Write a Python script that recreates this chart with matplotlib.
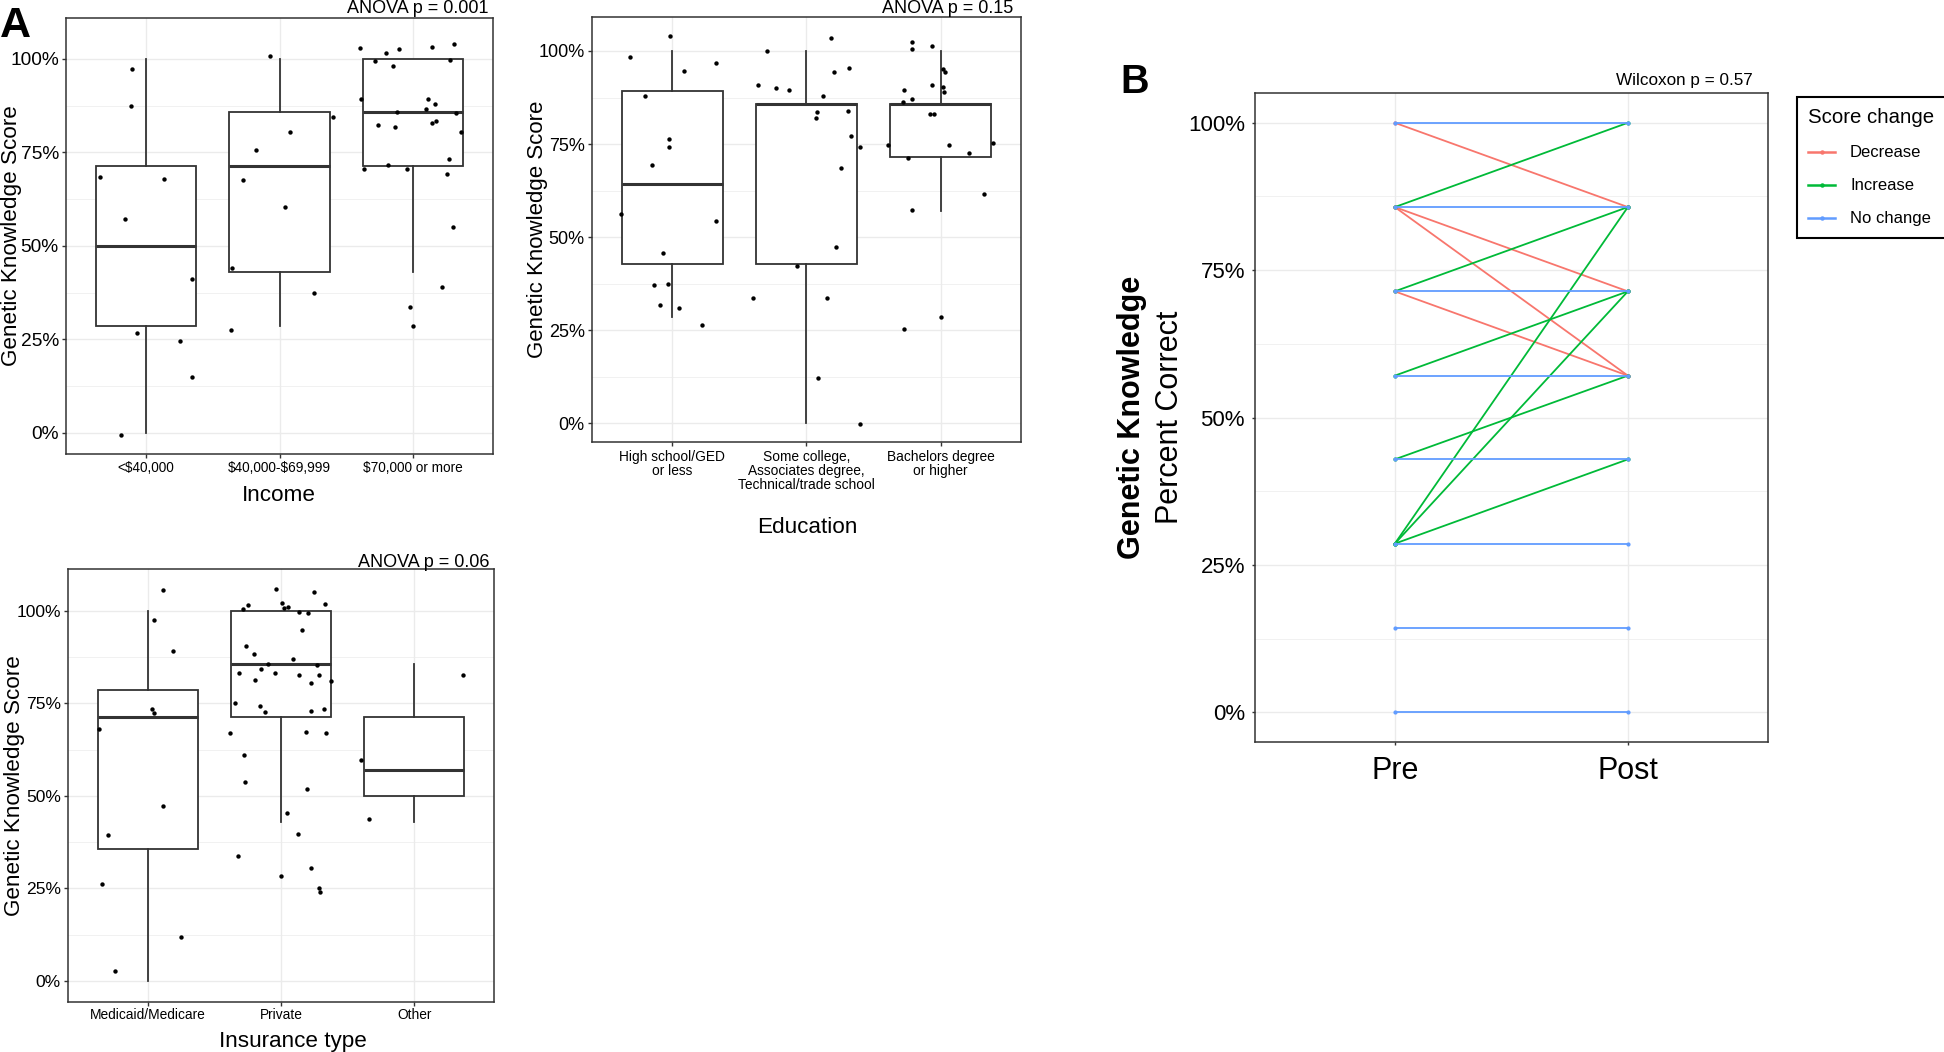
import matplotlib
matplotlib.use("Agg")
import matplotlib.pyplot as plt
from matplotlib.lines import Line2D
from matplotlib.ticker import PercentFormatter

plt.rcParams['font.family'] = ['Liberation Sans', 'DejaVu Sans']

W, H = 1944, 1052

# ---- Panel A: income ----
income_labels = ['<\\$40,000', '\\$40,000-\\$69,999', '\\$70,000 or more']
income_q1 = [0.286, 0.429, 0.714]
income_med = [0.500, 0.714, 0.857]
income_q3 = [0.714, 0.857, 1.000]
income_lo = [0.000, 0.286, 0.429]
income_hi = [1.000, 1.000, 1.000]
income_jx = [
    [-0.104, -0.112, -0.341, 0.139, -0.159, 0.346, -0.067, 0.254, 0.348, -0.187],
    [-0.072, 0.398, 0.077, -0.177, -0.276, 0.042, -0.356, 0.256, -0.361],
    [-0.396, -0.204, -0.109, 0.142, 0.306, -0.286, -0.149, 0.274, -0.391, 0.114,
     0.164, 0.095, -0.124, 0.318, -0.266, -0.139, 0.142, 0.174, 0.361, -0.189,
     -0.371, -0.047, 0.269, 0.256, 0.296, 0.216, -0.022, -0.002],
]
income_jy = [
    [0.974, 0.873, 0.685, 0.679, 0.571, 0.412, 0.268, 0.245, 0.149, -0.006],
    [1.008, 0.845, 0.804, 0.757, 0.677, 0.604, 0.441, 0.373, 0.274],
    [1.028, 1.016, 1.027, 1.032, 1.039, 0.994, 0.981, 0.996, 0.894, 0.892,
     0.878, 0.865, 0.859, 0.856, 0.824, 0.818, 0.828, 0.833, 0.804, 0.717,
     0.706, 0.706, 0.733, 0.693, 0.551, 0.390, 0.338, 0.287],
]

# ---- Panel A: education ----
edu_labels = ['High school/GED\nor less',
              'Some college,\nAssociates degree,\nTechnical/trade school',
              'Bachelors degree\nor higher']
edu_q1 = [0.429, 0.429, 0.714]
edu_med = [0.643, 0.857, 0.857]
edu_q3 = [0.893, 0.857, 0.857]
edu_lo = [0.286, 0.000, 0.571]
edu_hi = [1.000, 1.000, 1.000]
edu_jx = [
    [-0.020, -0.311, 0.326, 0.090, -0.206, -0.022, -0.027, -0.149, -0.383, 0.323,
     -0.067, -0.139, -0.030, -0.090, 0.052, 0.221],
    [0.187, -0.294, 0.316, 0.209, -0.358, -0.226, -0.127, 0.122, 0.077, 0.308,
     0.075, 0.333, 0.398, 0.256, 0.221, -0.070, -0.396, 0.157, 0.087, 0.398],
    [-0.216, -0.216, -0.060, 0.015, 0.030, -0.060, 0.020, 0.025, -0.273, -0.281,
     -0.209, -0.075, -0.052, -0.388, 0.060, 0.393, 0.209, -0.241, 0.323, -0.209,
     0.000, -0.269],
]
edu_jy = [
    [1.039, 0.984, 0.967, 0.945, 0.879, 0.763, 0.741, 0.695, 0.563, 0.544,
     0.458, 0.372, 0.373, 0.317, 0.310, 0.265],
    [1.036, 1.001, 0.955, 0.943, 0.908, 0.901, 0.896, 0.879, 0.837, 0.838,
     0.819, 0.771, 0.743, 0.686, 0.474, 0.423, 0.337, 0.337, 0.122, -0.001],
    [1.023, 1.006, 1.013, 0.952, 0.944, 0.908, 0.902, 0.889, 0.895, 0.863,
     0.871, 0.831, 0.832, 0.747, 0.747, 0.753, 0.726, 0.712, 0.617, 0.573,
     0.285, 0.254],
]

# ---- Panel A: insurance ----
ins_labels = ['Medicaid/Medicare', 'Private', 'Other']
ins_q1 = [0.357, 0.714, 0.500]
ins_med = [0.714, 0.857, 0.571]
ins_q3 = [0.786, 1.000, 0.714]
ins_lo = [0.000, 0.429, 0.429]
ins_hi = [1.000, 1.000, 0.857]
ins_jx = [
    [0.116, 0.047, 0.193, 0.030, 0.050, -0.364, 0.112, -0.297, -0.339, 0.253, -0.245],
    [-0.035, 0.250, 0.010, 0.332, -0.248, 0.057, 0.025, -0.287, 0.134, 0.201,
     0.161, -0.265, -0.203, 0.089, -0.094, 0.270, -0.151, -0.315, -0.045, 0.134,
     0.290, -0.193, 0.374, 0.226, -0.344, -0.154, 0.327, -0.119, 0.230, -0.379,
     0.188, 0.342, -0.275, -0.268, 0.198, 0.047, 0.131, -0.325, 0.230, -0.002,
     0.287, 0.295],
    [0.364, -0.397, -0.335],
]
ins_jy = [
    [1.057, 0.975, 0.892, 0.734, 0.723, 0.682, 0.472, 0.395, 0.263, 0.119, 0.028],
    [1.059, 1.050, 1.022, 1.019, 1.016, 1.011, 1.007, 1.006, 0.998, 0.994,
     0.948, 0.906, 0.883, 0.871, 0.857, 0.853, 0.842, 0.832, 0.831, 0.827,
     0.827, 0.814, 0.810, 0.805, 0.750, 0.742, 0.734, 0.727, 0.729, 0.670,
     0.672, 0.670, 0.612, 0.538, 0.520, 0.454, 0.397, 0.337, 0.304, 0.284,
     0.250, 0.240],
    [0.827, 0.598, 0.437],
]

# ---- Panel B: pre/post ----
pre_post_labels = ['Pre', 'Post']
pre_scores = [1.0, 0.857, 0.714, 0.571, 0.429, 0.286, 0.143, 0.0,
              1.0, 0.857, 0.857, 0.714,
              0.857, 0.714, 0.571, 0.429, 0.286, 0.286, 0.286]
post_scores = [1.0, 0.857, 0.714, 0.571, 0.429, 0.286, 0.143, 0.0,
               0.857, 0.714, 0.571, 0.571,
               1.0, 0.857, 0.714, 0.571, 0.857, 0.714, 0.429]
score_change = ['No change'] * 8 + ['Decrease'] * 4 + ['Increase'] * 7
change_levels = ['Decrease', 'Increase', 'No change']
change_colors = {'Decrease': '#F8766D', 'Increase': '#00BA38', 'No change': '#619CFF'}

GRID = '#EBEBEB'
DARK = '#333333'


def px_axes(left, top, right, bottom):
    return fig.add_axes([left / W, 1 - bottom / H, (right - left) / W, (bottom - top) / H])


def fx(x):
    return x / W


def fy(y):
    return 1 - y / H


def style_axes(ax, n, ylim, ysize, xsize, tick_len=3, ypad=2, xpad=1.5):
    ax.set_xlim(0.4, n + 0.6)
    ax.set_ylim(*ylim)
    ax.set_yticks([0, 0.25, 0.5, 0.75, 1.0])
    ax.set_yticks([0.125, 0.375, 0.625, 0.875], minor=True)
    ax.yaxis.set_major_formatter(PercentFormatter(1.0, decimals=0))
    ax.grid(which='major', color=GRID, linewidth=1.0)
    ax.grid(which='minor', axis='y', color=GRID, linewidth=0.5)
    ax.set_axisbelow(True)
    ax.tick_params(which='minor', length=0)
    ax.tick_params(axis='y', which='major', labelsize=ysize, length=tick_len,
                   width=1.0, color=DARK, pad=ypad)
    ax.tick_params(axis='x', which='major', labelsize=xsize, length=tick_len,
                   width=1.0, color=DARK, pad=xpad)
    for s in ax.spines.values():
        s.set_color(DARK)
        s.set_linewidth(1.1)


def box_panel(ax, labels, q1, med, q3, lo, hi, jx, jy):
    stats = []
    for i in range(len(labels)):
        stats.append(dict(med=med[i], q1=q1[i], q3=q3[i],
                          whislo=lo[i], whishi=hi[i], fliers=[]))
    ax.bxp(stats, positions=range(1, len(labels) + 1), widths=0.75,
           patch_artist=True, showfliers=False, showcaps=False,
           boxprops=dict(facecolor='white', edgecolor=DARK, linewidth=1.3),
           medianprops=dict(color=DARK, linewidth=2.2, solid_capstyle='butt'),
           whiskerprops=dict(color=DARK, linewidth=1.3), zorder=2)
    for i in range(len(labels)):
        xs = [i + 1 + d for d in jx[i]]
        ax.scatter(xs, jy[i], s=10, color='black', linewidths=0, zorder=3)
    ax.set_xticks(range(1, len(labels) + 1))
    ax.set_xticklabels(labels)


fig = plt.figure(figsize=(W / 100, H / 100), dpi=100)

# A1 income
ax1 = px_axes(65.7, 17.7, 493.3, 454.3)
box_panel(ax1, income_labels, income_q1, income_med, income_q3, income_lo,
          income_hi, income_jx, income_jy)
style_axes(ax1, 3, (-0.057, 1.11), 13.8, 9.8)
fig.text(fx(11.5), fy(236), 'Genetic Knowledge Score', rotation=90,
         ha='center', va='center', fontsize=16.2)
fig.text(fx(279), fy(501), 'Income', ha='center', va='baseline', fontsize=16.2)
fig.text(fx(488), fy(13.3), 'ANOVA p = 0.001', ha='right', va='baseline', fontsize=13)

# A2 education
ax2 = px_axes(591.7, 16.7, 1021, 442.3)
box_panel(ax2, edu_labels, edu_q1, edu_med, edu_q3, edu_lo, edu_hi, edu_jx, edu_jy)
style_axes(ax2, 3, (-0.051, 1.092), 13, 9.9, xpad=2.6)
for lab in ax2.get_xticklabels():
    lab.set_linespacing(1.0)
fig.text(fx(537), fy(229.5), 'Genetic Knowledge Score', rotation=90,
         ha='center', va='center', fontsize=16)
fig.text(fx(807), fy(532.7), 'Education', ha='center', va='baseline', fontsize=16.2)
fig.text(fx(1013), fy(13.2), 'ANOVA p = 0.15', ha='right', va='baseline', fontsize=13)

# A3 insurance
ax3 = px_axes(67.7, 569.3, 494, 1001.7)
box_panel(ax3, ins_labels, ins_q1, ins_med, ins_q3, ins_lo, ins_hi, ins_jx, ins_jy)
style_axes(ax3, 3, (-0.056, 1.1126), 12.6, 9.9)
fig.text(fx(15), fy(785.5), 'Genetic Knowledge Score', rotation=90,
         ha='center', va='center', fontsize=16.2)
fig.text(fx(293), fy(1047), 'Insurance type', ha='center', va='baseline', fontsize=16.2)
fig.text(fx(489), fy(566.7), 'ANOVA p = 0.06', ha='right', va='baseline', fontsize=13)

fig.text(fx(0), fy(36.7), 'A', ha='left', va='baseline', fontsize=31, fontweight='bold')

# B pre/post
axb = px_axes(1255, 93.3, 1767.7, 741.7)
for level in change_levels:
    for p0, p1, c in zip(pre_scores, post_scores, score_change):
        if c == level:
            axb.plot([1, 2], [p0, p1], color=change_colors[level], linewidth=1.3,
                     marker='o', markersize=2.0, zorder=3)
axb.set_xticks([1, 2])
axb.set_xticklabels(pre_post_labels)
style_axes(axb, 2, (-0.05, 1.05), 16, 22, tick_len=2.4, ypad=4.8, xpad=7.8)
fig.text(fx(1132), fy(417.5), 'Genetic Knowledge', rotation=90, ha='center',
         va='center', fontsize=22, fontweight='bold')
fig.text(fx(1170), fy(417.5), 'Percent Correct', rotation=90, ha='center',
         va='center', fontsize=22)
fig.text(fx(1752.7), fy(85), 'Wilcoxon p = 0.57', ha='right', va='baseline', fontsize=12.3)
fig.text(fx(1120), fy(93.3), 'B', ha='left', va='baseline', fontsize=28.5, fontweight='bold')

handles = [Line2D([0], [0], color=change_colors[k], linewidth=1.8, marker='o',
                  markersize=2.2) for k in change_levels]
leg = axb.legend(handles, change_levels, loc='upper left',
                 bbox_to_anchor=(fx(1796.7), fy(96.7)), bbox_transform=fig.transFigure,
                 borderaxespad=0, frameon=True, fancybox=False, edgecolor='black',
                 framealpha=1, title='Score change', title_fontsize=14.7, fontsize=12,
                 handlelength=1.6, handletextpad=0.9, labelspacing=1.08,
                 alignment='left', borderpad=0.7)
leg.get_frame().set_linewidth(1.5)

fig.savefig('out.png', dpi=100)
